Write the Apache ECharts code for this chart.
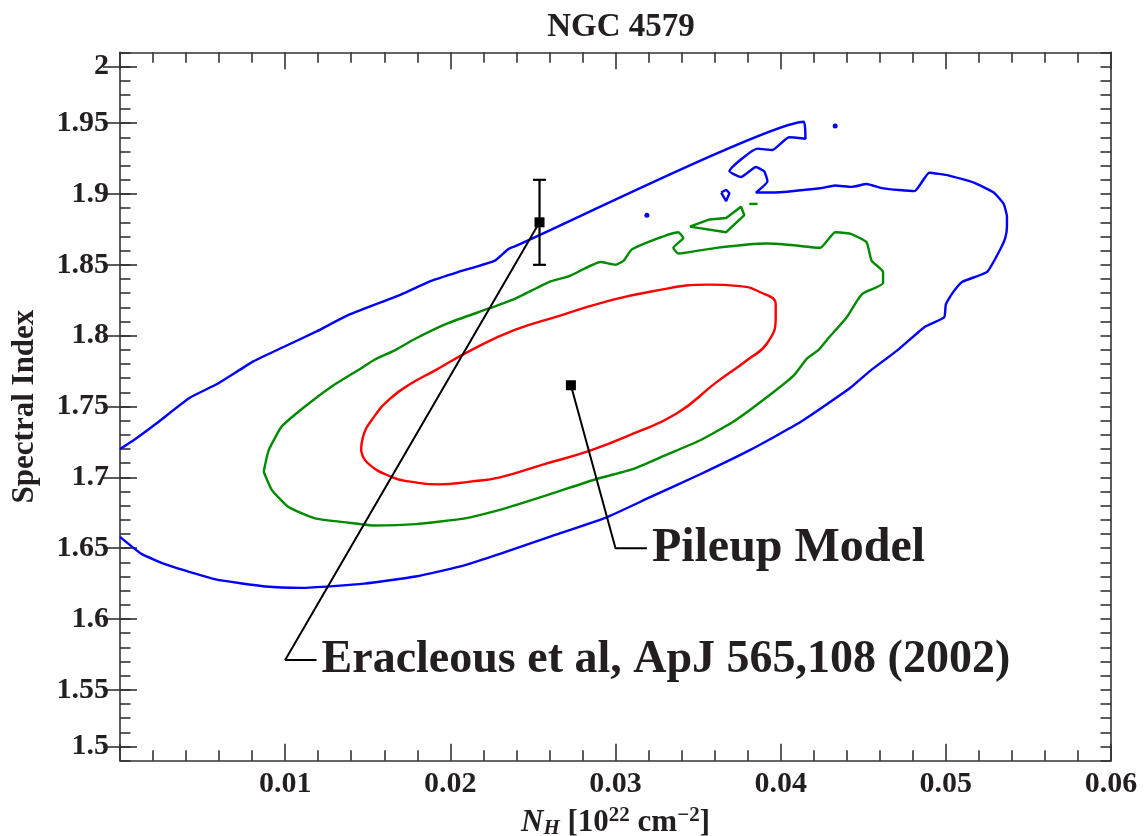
<!DOCTYPE html>
<html>
<head>
<meta charset="utf-8">
<title>NGC 4579</title>
<script src="https://cdn.jsdelivr.net/npm/echarts@6/dist/echarts.min.js"></script>
<style>
  html, body { margin: 0; padding: 0; background: #ffffff; }
  #chart { width: 1144px; height: 836px; }
</style>
</head>
<body>
<div id="chart"></div>
<script>
// Axis ticks and labels
const xTickValues = [0.01, 0.02, 0.03, 0.04, 0.05, 0.06];
const xTickLabels = ['0.01', '0.02', '0.03', '0.04', '0.05', '0.06'];
const yTickValues = [1.51, 1.55, 1.6, 1.65, 1.7, 1.75, 1.8, 1.85, 1.9, 1.95, 1.99];
const yTickLabels = ['1.5', '1.55', '1.6', '1.65', '1.7', '1.75', '1.8', '1.85', '1.9', '1.95', '2'];

// Confidence contours in the (N_H, photon index) plane
const redContour = [
  [0.0146, 1.719], [0.0147, 1.728], [0.0154, 1.743], [0.0164, 1.756], [0.0176, 1.766],
  [0.0190, 1.775], [0.0213, 1.790], [0.0239, 1.804], [0.0266, 1.814], [0.0291, 1.823],
  [0.0321, 1.831], [0.0357, 1.836], [0.0375, 1.835], [0.0387, 1.831], [0.0397, 1.822],
  [0.0397, 1.813], [0.0392, 1.795], [0.0380, 1.783], [0.0361, 1.767],
  [0.0337, 1.745], [0.0311, 1.731], [0.0285, 1.719], [0.0256, 1.709], [0.0230, 1.700],
  [0.0212, 1.697], [0.0193, 1.695], [0.0176, 1.697], [0.0165, 1.700], [0.0150, 1.710],
  [0.0146, 1.719]
];

const greenContour = [
  [0.0087, 1.704], [0.0090, 1.719], [0.0098, 1.736], [0.0112, 1.750], [0.0128, 1.764],
  [0.0146, 1.777], [0.0154, 1.783], [0.0167, 1.790], [0.0179, 1.798], [0.0199, 1.809],
  [0.0223, 1.819], [0.0239, 1.826], [0.0246, 1.830], [0.0260, 1.838], [0.0272, 1.842],
  [0.0291, 1.852], [0.0300, 1.850], [0.0305, 1.853], [0.0310, 1.861], [0.0338, 1.873],
  [0.0341, 1.869], [0.0335, 1.862], [0.0338, 1.858], [0.0361, 1.862], [0.0391, 1.865],
  [0.0406, 1.864], [0.0424, 1.862], [0.0433, 1.873], [0.0442, 1.872], [0.0452, 1.866],
  [0.0455, 1.853], [0.0462, 1.845], [0.0462, 1.837], [0.0450, 1.830], [0.0447, 1.826],
  [0.0440, 1.813], [0.0428, 1.797], [0.0423, 1.790], [0.0416, 1.784], [0.0408, 1.772],
  [0.0391, 1.756], [0.0371, 1.739], [0.0351, 1.726], [0.0331, 1.716], [0.0311, 1.706],
  [0.0289, 1.699], [0.0260, 1.688], [0.0230, 1.677], [0.0209, 1.671], [0.0179, 1.667],
  [0.0154, 1.666], [0.0138, 1.668], [0.0118, 1.671], [0.0102, 1.679], [0.0092, 1.691],
  [0.0087, 1.704]
];
const greenIsland = [
  [0.0345, 1.877], [0.0357, 1.882], [0.0367, 1.883], [0.0376, 1.891], [0.0378, 1.885],
  [0.0367, 1.873], [0.0345, 1.877]
];
const greenDash = [[0.0381, 1.893], [0.0386, 1.893]];

const blueContour = [
  [0.0000, 1.720], [0.0008, 1.726], [0.0022, 1.738], [0.0042, 1.756], [0.0059, 1.766],
  [0.0081, 1.782], [0.0099, 1.792], [0.0119, 1.803], [0.0139, 1.815], [0.0170, 1.829],
  [0.0187, 1.838], [0.0205, 1.845], [0.0227, 1.853], [0.0235, 1.861], [0.0239, 1.863],
  [0.0414, 1.951], [0.0415, 1.939], [0.0405, 1.940], [0.0395, 1.931], [0.0386, 1.932],
  [0.0369, 1.916], [0.0376, 1.912], [0.0385, 1.919], [0.0390, 1.916], [0.0392, 1.909],
  [0.0385, 1.901], [0.0395, 1.901], [0.0424, 1.904], [0.0433, 1.906], [0.0443, 1.905],
  [0.0452, 1.907], [0.0462, 1.904], [0.0481, 1.902], [0.0490, 1.915], [0.0502, 1.913],
  [0.0517, 1.908], [0.0529, 1.901], [0.0535, 1.893], [0.0537, 1.884], [0.0537, 1.877],
  [0.0536, 1.869], [0.0533, 1.861], [0.0525, 1.845], [0.0510, 1.838], [0.0504, 1.830],
  [0.0500, 1.822], [0.0499, 1.813], [0.0487, 1.806], [0.0471, 1.790], [0.0454, 1.775],
  [0.0442, 1.763], [0.0412, 1.739], [0.0381, 1.719], [0.0351, 1.702], [0.0321, 1.686],
  [0.0295, 1.672], [0.0260, 1.658], [0.0230, 1.646], [0.0209, 1.638], [0.0179, 1.630],
  [0.0148, 1.625], [0.0110, 1.622], [0.0088, 1.623], [0.0058, 1.628], [0.0029, 1.638],
  [0.0013, 1.646], [0.0000, 1.658]
];
const blueIsland = [[0.0364, 1.901], [0.0367, 1.903], [0.0369, 1.9005], [0.0367, 1.895], [0.0364, 1.901]];
const blueDots = [[0.0319, 1.885], [0.0433, 1.948]];

// Best fits: pileup model, and the published value with its error bar
const pileupFit = [[0.0273, 1.765]];
const eracleousFit = [[0.0254, 1.880, 1.850, 1.910]]; // N_H, index, low, high

// Leader lines from each fit to its caption
const pileupLeader = [[0.0273, 1.765], [0.0300, 1.650], [0.0319, 1.650]];
const eracleousLeader = [[0.0254, 1.880], [0.0100, 1.571], [0.0119, 1.571]];
const captions = ['Pileup Model', 'Eracleous et al, ApJ 565,108 (2002)'];

const FONT = '"Liberation Serif", "DejaVu Serif", serif';
const INK = '#231f20';
const AXIS = '#333333';
const BLUE = '#0000ff';
const GREEN = '#008a00';
const RED = '#ff0000';

function lookupLabel(values, labels, v) {
  const i = values.findIndex(t => Math.abs(t - v) < 1e-6);
  return i < 0 ? '' : labels[i];
}

const lineAxis = { show: true, onZero: false, lineStyle: { color: AXIS, width: 1.6 } };
const tickStyle = { color: AXIS, width: 1.6 };

function xAxisDef(position, withLabels) {
  const ax = {
    type: 'value', min: 0, max: 0.06, interval: 0.01, position: position,
    axisLine: lineAxis,
    axisTick: { show: true, inside: true, length: 17, lineStyle: tickStyle },
    minorTick: { show: true, splitNumber: 5, length: 10.5, lineStyle: tickStyle },
    splitLine: { show: false }, minorSplitLine: { show: false },
    axisLabel: { show: false }
  };
  if (withLabels) {
    ax.axisLabel = {
      show: true, showMinLabel: false, margin: 9,
      fontFamily: FONT, fontSize: 30, fontWeight: 'bold', color: INK,
      formatter: v => lookupLabel(xTickValues, xTickLabels, v)
    };
    ax.name = '{i|N}{sub|H}{r| [10}{sup|22}{r| cm}{sup|\u22122}{r|]}';
    ax.nameLocation = 'middle';
    ax.nameGap = 32;
    ax.nameTextStyle = {
      rich: {
        i: { fontFamily: FONT, fontSize: 31, fontStyle: 'italic', fontWeight: 'bold', color: INK, lineHeight: 34, verticalAlign: 'bottom' },
        sub: { fontFamily: FONT, fontSize: 21, fontStyle: 'italic', fontWeight: 'bold', color: INK, lineHeight: 21, verticalAlign: 'bottom' },
        r: { fontFamily: FONT, fontSize: 31, fontWeight: 'bold', color: INK, lineHeight: 34, verticalAlign: 'bottom' },
        sup: { fontFamily: FONT, fontSize: 21, fontWeight: 'bold', color: INK, lineHeight: 21, verticalAlign: 'top' }
      }
    };
  }
  return ax;
}

function yMinorAxis(position) {
  return {
    type: 'value', min: 1.5, max: 2.0, interval: 0.01, position: position,
    axisLine: lineAxis,
    axisTick: { show: true, inside: true, length: 10.5, lineStyle: tickStyle },
    splitLine: { show: false },
    axisLabel: { show: false }
  };
}

function yMajorAxis(position, withLabels) {
  const ax = {
    type: 'value', min: 1.5, max: 2.0, position: position,
    axisLine: { show: false },
    axisTick: { show: true, inside: true, length: 17, lineStyle: tickStyle, customValues: yTickValues },
    splitLine: { show: false },
    axisLabel: { show: false }
  };
  if (withLabels) {
    ax.axisLabel = {
      show: true, customValues: yTickValues, margin: 11,
      fontFamily: FONT, fontSize: 30, fontWeight: 'bold', color: INK,
      formatter: v => lookupLabel(yTickValues, yTickLabels, v)
    };
    ax.name = 'Spectral Index';
    ax.nameLocation = 'middle';
    ax.nameRotate = 90;
    ax.nameGap = 80;
    ax.nameTextStyle = { fontFamily: FONT, fontSize: 31, fontWeight: 'bold', color: INK };
  }
  return ax;
}

function contour(data, color, smooth) {
  return {
    type: 'line', data: data, xAxisIndex: 0, yAxisIndex: 0,
    showSymbol: false, symbol: 'none', smooth: smooth,
    lineStyle: { color: color, width: 2.4 },
    silent: true, z: 2
  };
}

function renderErrorBar(params, api) {
  const x = api.value(0);
  const lo = api.coord([x, api.value(2)]);
  const hi = api.coord([x, api.value(3)]);
  const cap = 6.5;
  const style = { stroke: '#000000', lineWidth: 2.2 };
  return {
    type: 'group',
    children: [
      { type: 'line', shape: { x1: lo[0], y1: lo[1], x2: hi[0], y2: hi[1] }, style: style },
      { type: 'line', shape: { x1: lo[0] - cap, y1: lo[1], x2: lo[0] + cap, y2: lo[1] }, style: style },
      { type: 'line', shape: { x1: hi[0] - cap, y1: hi[1], x2: hi[0] + cap, y2: hi[1] }, style: style }
    ]
  };
}

function leader(data) {
  return {
    type: 'line', data: data, xAxisIndex: 0, yAxisIndex: 0,
    showSymbol: false, symbol: 'none',
    lineStyle: { color: '#000000', width: 2 }, silent: true, z: 4
  };
}

const captionStyle = { fontFamily: FONT, fontWeight: 'bold', color: INK };

const chart = echarts.init(document.getElementById('chart'), null, { renderer: 'canvas' });

chart.setOption({
  animation: false,
  backgroundColor: '#ffffff',
  title: {
    text: 'NGC 4579', left: 616, top: 6, textAlign: 'center',
    textStyle: { fontFamily: FONT, fontSize: 33, fontWeight: 'bold', color: INK }
  },
  grid: { left: 120, right: 33, top: 52.3, bottom: 75.3, containLabel: false, outerBoundsMode: 'none' },
  xAxis: [xAxisDef('bottom', true), xAxisDef('top', false)],
  yAxis: [yMinorAxis('left'), yMajorAxis('left', true), yMinorAxis('right'), yMajorAxis('right', false)],
  series: [
    contour(blueContour, BLUE, 0.15),
    contour(blueIsland, BLUE, false),
    {
      type: 'scatter', data: blueDots, symbol: 'circle', symbolSize: 5,
      itemStyle: { color: BLUE, opacity: 1 }, silent: true, z: 2
    },
    contour(greenContour, GREEN, 0.15),
    contour(greenIsland, GREEN, false),
    contour(greenDash, GREEN, false),
    contour(redContour, RED, 0.5),
    leader(pileupLeader),
    leader(eracleousLeader),
    {
      type: 'custom', renderItem: renderErrorBar, data: eracleousFit,
      encode: { x: 0, y: 1 }, silent: true, z: 5
    },
    {
      type: 'scatter', data: pileupFit.concat(eracleousFit.map(d => [d[0], d[1]])),
      symbol: 'rect', symbolSize: 10, itemStyle: { color: '#000000', opacity: 1 }, silent: true, z: 6
    },
    {
      type: 'scatter', symbolSize: 0, silent: true, z: 6,
      itemStyle: { opacity: 1 },
      data: [
        { name: captions[0], value: pileupLeader[pileupLeader.length - 1],
          label: Object.assign({ fontSize: 48 }, captionStyle) },
        { name: captions[1], value: eracleousLeader[eracleousLeader.length - 1],
          label: Object.assign({ fontSize: 46 }, captionStyle) }
      ],
      label: {
        show: true, position: 'right', distance: 5, opacity: 1,
        formatter: p => p.name,
        fontFamily: FONT, fontSize: 47, fontWeight: 'bold', color: INK
      }
    }
  ]
});
</script>
</body>
</html>
